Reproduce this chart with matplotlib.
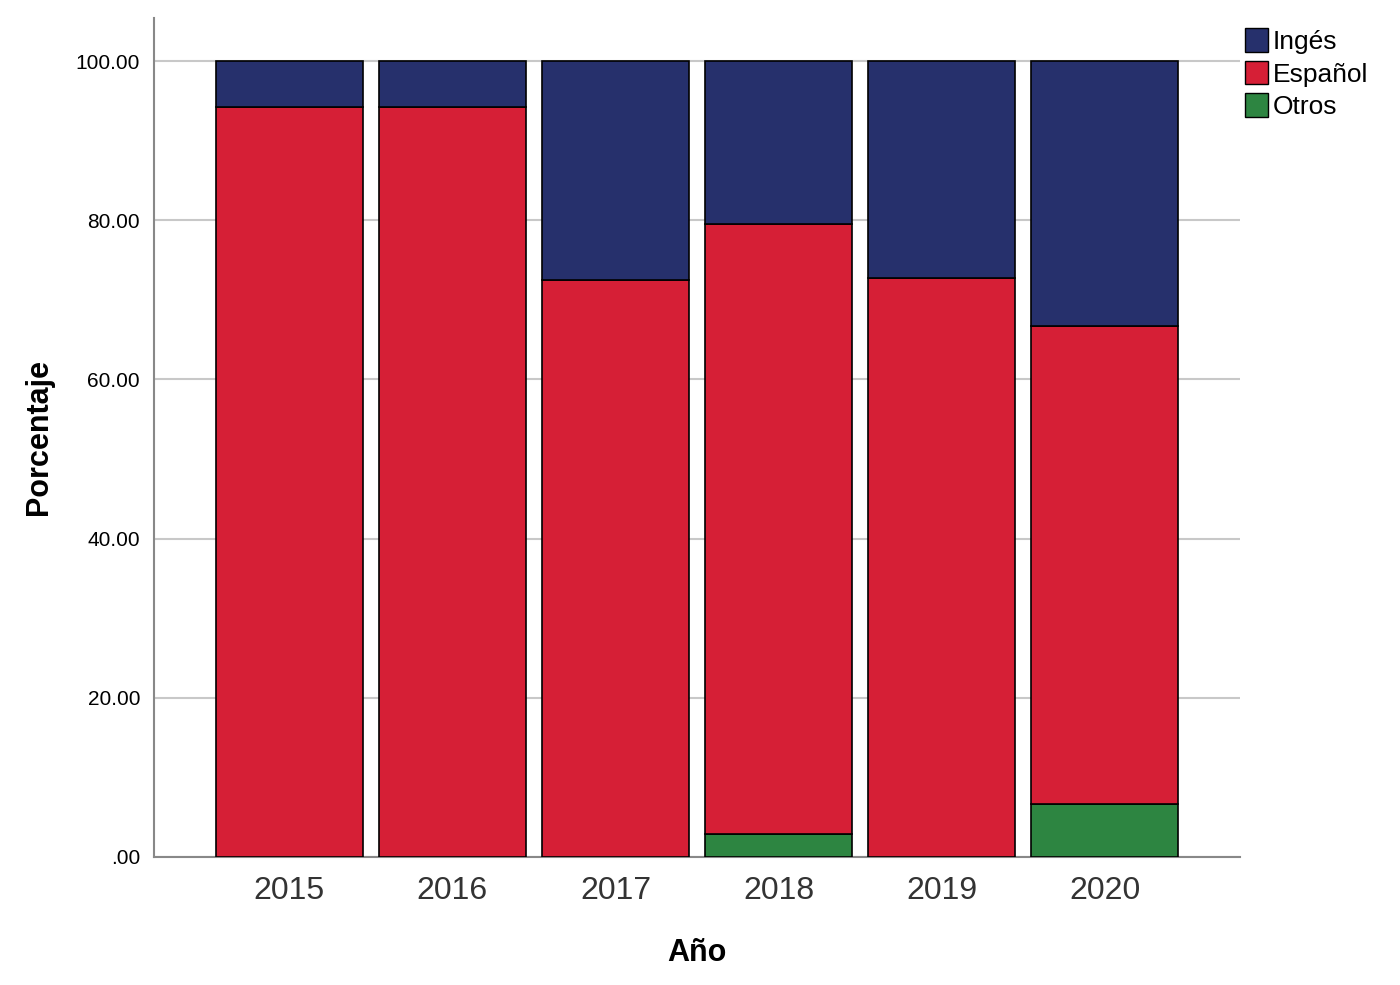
import matplotlib.pyplot as plt
import numpy as np
from matplotlib.patches import Patch

plt.rcParams['font.family'] = ['Liberation Sans', 'DejaVu Sans']

# datos
anios = ['2015', '2016', '2017', '2018', '2019', '2020']
otros = [0.0, 0.0, 0.0, 2.9, 0.0, 6.6]
espanol = [94.2, 94.2, 72.5, 76.6, 72.8, 60.1]
ingles = [5.8, 5.8, 27.5, 20.5, 27.2, 33.3]

c_ing = '#26306C'
c_esp = '#D61F36'
c_otr = '#2D8541'

fig = plt.figure(figsize=(14, 9.85), dpi=100)
ax = fig.add_axes([0.11, 0.13, 0.7757, 0.8517])

x = np.arange(len(anios))
base = np.array(otros)
ax.bar(x, otros, 0.9, color=c_otr, edgecolor='black', linewidth=1.2, zorder=3)
ax.bar(x, espanol, 0.9, bottom=base, color=c_esp, edgecolor='black', linewidth=1.2, zorder=3)
base = base + np.array(espanol)
ax.bar(x, ingles, 0.9, bottom=base, color=c_ing, edgecolor='black', linewidth=1.2, zorder=3)

ax.set_xlim(-0.83, 5.83)
ax.set_ylim(0, 105.4)
ax.set_yticks([0, 20, 40, 60, 80, 100])
ax.set_yticklabels(['.00', '20.00', '40.00', '60.00', '80.00', '100.00'], fontsize=15)
ax.set_xticks(x)
ax.set_xticklabels(anios, fontsize=23, color='#333333')
ax.tick_params(axis='y', length=0, pad=10)
ax.tick_params(axis='x', length=0, pad=14)

ax.grid(axis='y', color='#c8c8c8', linewidth=1.5, zorder=0)
for s in ['top', 'right']:
    ax.spines[s].set_visible(False)
for s in ['left', 'bottom']:
    ax.spines[s].set_color('#888888')
    ax.spines[s].set_linewidth(1.5)

ax.set_xlabel('Año', fontsize=22, fontweight='bold', labelpad=23)
ax.set_ylabel('Porcentaje', fontsize=22, fontweight='bold', labelpad=16)

handles = [Patch(facecolor=c_ing, edgecolor='black', label='Ingés'),
           Patch(facecolor=c_esp, edgecolor='black', label='Español'),
           Patch(facecolor=c_otr, edgecolor='black', label='Otros')]
fig.legend(handles=handles, loc='upper left', bbox_to_anchor=(0.882, 0.982),
           frameon=False, fontsize=19, handlelength=0.85, handleheight=1.0,
           handletextpad=0.2, labelspacing=0.25, borderaxespad=0)

fig.savefig('out.png')
